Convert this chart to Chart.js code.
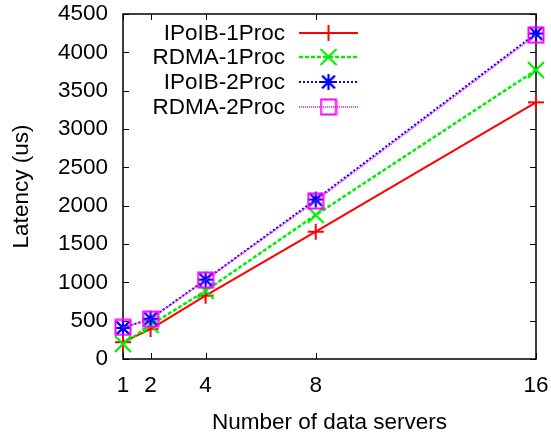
<!DOCTYPE html>
<html>
<head>
<meta charset="utf-8">
<script src="https://cdn.jsdelivr.net/npm/chart.js@4/dist/chart.umd.min.js"></script>
<style>
  html, body { margin: 0; padding: 0; background: #fff; }
  #wrap { width: 551px; height: 436px; }
</style>
</head>
<body>
<div id="wrap"><canvas id="c" width="551" height="436"></canvas></div>
<script>
// Number of data servers
const servers = [1, 2, 4, 8, 16];
const xTicks = [1, 2, 4, 8, 16];
const yTicks = [0, 500, 1000, 1500, 2000, 2500, 3000, 3500, 4000, 4500];

// Latency (us) per configuration
const ipoib1Proc = [220, 390, 826, 1660, 3348];
const rdma1Proc  = [196, 443, 890, 1878, 3769];
const ipoib2Proc = [405, 525, 1035, 2080, 4245];
const rdma2Proc  = [412, 520, 1030, 2060, 4225];

const seriesNames = ['IPoIB-1Proc', 'RDMA-1Proc', 'IPoIB-2Proc', 'RDMA-2Proc'];

const FONT = '"Liberation Sans", Arial, Helvetica, sans-serif';
const FS = 22.5;

// gnuplot-like point symbols drawn onto small canvases
function marker(kind, color, size, lw) {
  const c = document.createElement('canvas');
  c.width = size; c.height = size;
  const g = c.getContext('2d');
  g.strokeStyle = color;
  g.lineWidth = lw;
  const m = size / 2, h = size / 2 - 1;
  g.beginPath();
  if (kind === 'plus' || kind === 'star') {
    g.moveTo(m - h, m); g.lineTo(m + h, m);
    g.moveTo(m, m - h); g.lineTo(m, m + h);
  }
  if (kind === 'cross' || kind === 'star') {
    const d = kind === 'star' ? h * 0.8 : h;
    g.moveTo(m - d, m - d); g.lineTo(m + d, m + d);
    g.moveTo(m - d, m + d); g.lineTo(m + d, m - d);
  }
  if (kind === 'square') {
    g.rect(m - h + 0.5, m - h + 0.5, 2 * h - 1, 2 * h - 1);
  }
  g.stroke();
  return c;
}

const styles = [
  { color: '#ff0000', dash: [],     width: 2,   point: marker('plus', '#ff0000', 18, 2) },
  { color: '#00ee00', dash: [4, 2], width: 2.5, point: marker('cross', '#00ee00', 18, 2.2) },
  { color: '#0000ff', dash: [2, 2], width: 2,   point: marker('star', '#0000ff', 18, 2.2) },
  { color: '#ff00ff', dash: [1, 1], width: 1.5, point: marker('square', '#ff00ff', 18, 2) }
];

const seriesValues = [ipoib1Proc, rdma1Proc, ipoib2Proc, rdma2Proc];

const datasets = seriesValues.map((vals, i) => ({
  label: seriesNames[i],
  data: servers.map((x, k) => ({ x: x, y: vals[k] })),
  borderColor: styles[i].color,
  backgroundColor: styles[i].color,
  borderWidth: styles[i].width,
  borderDash: styles[i].dash,
  pointStyle: styles[i].point,
  pointRadius: 8,
  pointHoverRadius: 8,
  tension: 0,
  fill: false,
  clip: false,
  order: 4 - i
}));

// Frame with inward tick marks on all four sides
const framePlugin = {
  id: 'frame',
  beforeDatasetsDraw(chart) {
    const { ctx, chartArea: a, scales } = chart;
    ctx.save();
    ctx.strokeStyle = '#000';
    ctx.lineWidth = 1;
    const tl = 6;
    ctx.beginPath();
    yTicks.forEach(v => {
      const y = Math.round(scales.y.getPixelForValue(v)) + 0.5;
      ctx.moveTo(a.left, y); ctx.lineTo(a.left + tl, y);
      ctx.moveTo(a.right, y); ctx.lineTo(a.right - tl, y);
    });
    xTicks.forEach(v => {
      const x = Math.round(scales.x.getPixelForValue(v)) + 0.5;
      ctx.moveTo(x, a.bottom); ctx.lineTo(x, a.bottom - tl);
      ctx.moveTo(x, a.top); ctx.lineTo(x, a.top + tl);
    });
    ctx.stroke();
    ctx.lineWidth = 1.5;
    ctx.strokeRect(a.left, a.top, a.right - a.left, a.bottom - a.top);
    ctx.restore();
  }
};

// Legend in the upper-left of the plot: right-aligned names, then line sample with symbol
const keyPlugin = {
  id: 'key',
  afterDraw(chart) {
    const { ctx } = chart;
    const textRight = 285, lineL = 299, lineR = 358, rows = [33, 57, 82, 107];
    ctx.save();
    ctx.font = FS + 'px ' + FONT;
    ctx.textAlign = 'right';
    ctx.textBaseline = 'middle';
    chart.data.datasets.forEach((ds, i) => {
      const y = rows[i];
      ctx.fillStyle = '#000';
      ctx.fillText(ds.label, textRight, y + 1);
      ctx.strokeStyle = ds.borderColor;
      ctx.lineWidth = ds.borderWidth;
      ctx.setLineDash(ds.borderDash);
      ctx.beginPath();
      ctx.moveTo(lineL, y); ctx.lineTo(lineR, y);
      ctx.stroke();
      ctx.setLineDash([]);
      const img = ds.pointStyle;
      ctx.drawImage(img, (lineL + lineR) / 2 - img.width / 2, y - img.height / 2);
    });
    ctx.restore();
  }
};

new Chart(document.getElementById('c'), {
  type: 'line',
  data: { datasets },
  plugins: [framePlugin, keyPlugin],
  options: {
    responsive: false,
    animation: false,
    events: [],
    layout: { padding: { top: 14, right: 15, left: 0, bottom: 0 } },
    plugins: { legend: { display: false }, tooltip: { enabled: false } },
    scales: {
      x: {
        type: 'linear',
        min: 1,
        max: 16,
        afterBuildTicks(scale) { scale.ticks = xTicks.map(v => ({ value: v })); },
        afterFit(scale) {
          scale.height = 77;
          scale.paddingLeft = 0;
          scale.paddingRight = 0;
        },
        grid: { display: false, drawTicks: false },
        border: { display: false },
        ticks: {
          color: '#000',
          font: { family: FONT, size: FS },
          padding: 13,
          maxRotation: 0,
          autoSkip: false,
          callback: v => String(v)
        },
        title: {
          display: true,
          text: 'Number of data servers',
          color: '#000',
          font: { family: FONT, size: FS },
          padding: { top: 0, bottom: 0 }
        }
      },
      y: {
        min: 0,
        max: 4500,
        afterBuildTicks(scale) { scale.ticks = yTicks.map(v => ({ value: v })); },
        afterFit(scale) {
          scale.width = 123;
          scale.paddingTop = 0;
          scale.paddingBottom = 0;
        },
        grid: { display: false, drawTicks: false },
        border: { display: false },
        ticks: {
          color: '#000',
          font: { family: FONT, size: FS },
          padding: 15,
          callback: v => String(v)
        },
        title: {
          display: true,
          text: 'Latency (us)',
          color: '#000',
          font: { family: FONT, size: FS },
          padding: { top: 8, bottom: 0 }
        }
      }
    }
  }
});
</script>
</body>
</html>
